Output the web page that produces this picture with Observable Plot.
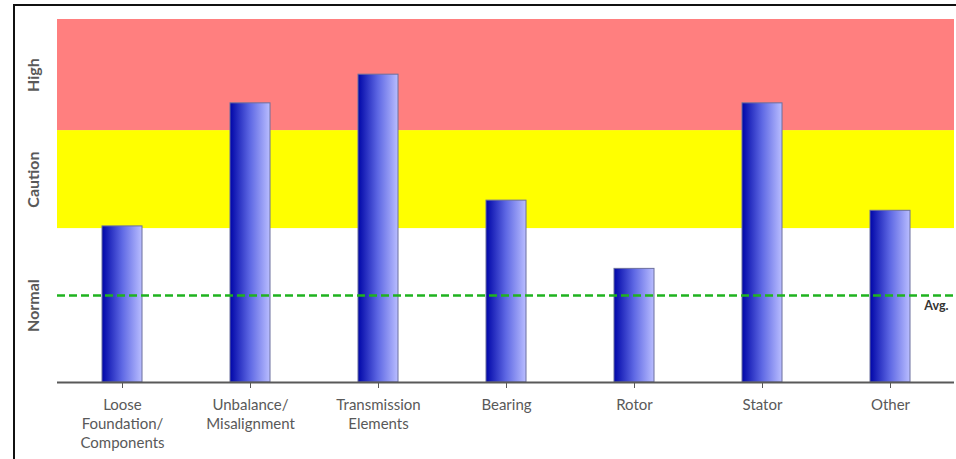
<!DOCTYPE html>
<html>
<head>
<meta charset="utf-8">
<script src="https://cdn.jsdelivr.net/npm/d3@7"></script>
<script src="https://cdn.jsdelivr.net/npm/@observablehq/plot@0.6"></script>
<style>
  body { margin: 0; background: #fff; }
  #wrap { position: relative; width: 956px; height: 459px; overflow: hidden; }
  #wrap svg { position: absolute; left: 0; top: 0; }
  #frame { position: absolute; left: 13px; top: 4px; right: 0; bottom: 0;
           border-top: 2px solid #111; border-left: 2px solid #111; pointer-events: none; }
</style>
</head>
<body>
<div id="wrap"><div id="frame"></div></div>
<script>
// Machine components and their vibration severity (relative units)
const components = [
  "Loose\nFoundation/\nComponents",
  "Unbalance/\nMisalignment",
  "Transmission\nElements",
  "Bearing",
  "Rotor",
  "Stator",
  "Other"
];
const severity = [43.0, 76.9, 84.8, 50.1, 31.3, 76.9, 47.3];
const average = 24.0;

// Severity zones, bottom to top
const zoneNames = ["Normal", "Caution", "High"];
const zoneLimits = [0, 42.4, 69.4, 100];
const zoneColors = ["#ffffff", "#ffff00", "#ff7f7f"];

const bars = components.map((component, i) => ({component, value: severity[i]}));
const zones = zoneNames.map((name, i) => ({
  name, lo: zoneLimits[i], hi: zoneLimits[i + 1], fill: zoneColors[i]
}));

const chart = Plot.plot({
  width: 956,
  height: 459,
  marginLeft: 57,
  marginRight: 2,
  marginTop: 19,
  marginBottom: 77,
  style: {fontFamily: "Lato, 'Open Sans', sans-serif", background: "transparent"},
  x: {domain: components, paddingInner: 0.69, paddingOuter: 0.345, label: null},
  y: {domain: [0, 100], axis: null},
  color: {type: "identity"},
  marks: [
    Plot.rect(zones, {y1: "lo", y2: "hi", fill: "fill"}),
    Plot.barY(bars, {x: "component", y: "value", fill: "url(#bar-shade)", stroke: "#6b6f9e", strokeWidth: 1}),
    Plot.ruleY([average], {stroke: "#1fb31f", strokeWidth: 2.5, strokeDasharray: "8,4"}),
    Plot.text([average], {
      y: d => d, text: () => "Avg.", frameAnchor: "right", textAnchor: "end",
      dx: -6, dy: 11, fontWeight: "bold", fontSize: 12.5, fill: "#333"
    }),
    Plot.ruleY([0], {stroke: "#595959", strokeWidth: 2}),
    Plot.axisX({
      tickSize: 6, tickPadding: 8, fontSize: 15, color: "#595959",
      lineHeight: 1.27, label: null
    }),
    Plot.text(zones, {
      y: d => (d.lo + d.hi) / 2, text: "name", frameAnchor: "left", textAnchor: "middle",
      dx: -24, rotate: -90, fontWeight: "bold", fontSize: 16, fill: "#595959"
    })
  ]
});

// Horizontal shading for the bars: deep blue fading to lavender
const defs = d3.select(chart).insert("defs", ":first-child");
const grad = defs.append("linearGradient")
  .attr("id", "bar-shade").attr("x1", 0).attr("x2", 1).attr("y1", 0).attr("y2", 0);
grad.append("stop").attr("offset", "0%").attr("stop-color", "#0006a8");
grad.append("stop").attr("offset", "50%").attr("stop-color", "#5e68e4");
grad.append("stop").attr("offset", "100%").attr("stop-color", "#b9bdff");

const wrap = document.getElementById("wrap");
wrap.insertBefore(chart, wrap.firstChild);
</script>
</body>
</html>
